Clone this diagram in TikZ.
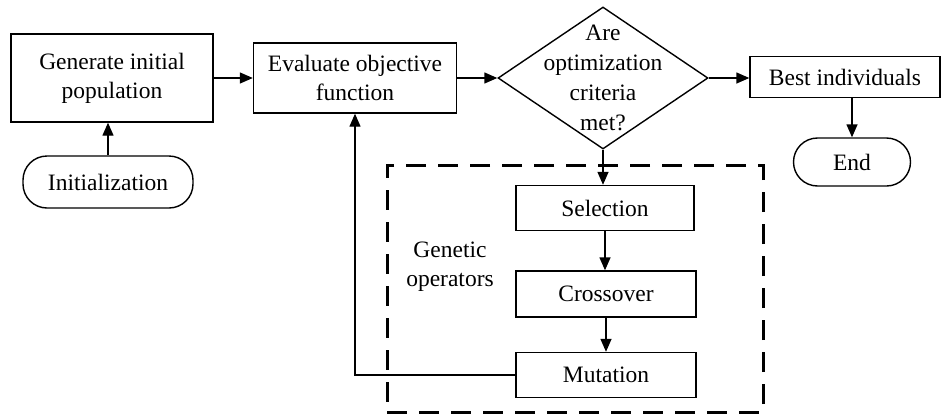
\documentclass[tikz,border=0pt]{standalone}
\usepackage{fontspec}
\setmainfont{Liberation Serif}
\usetikzlibrary{shapes.geometric,arrows.meta}
\begin{document}
\begin{tikzpicture}[x=0.5pt,y=-0.5pt,
  font=\fontsize{11.75}{14.5}\selectfont,
  box/.style={draw,line width=0.7pt,align=center,inner sep=0pt},
  term/.style={draw,line width=0.7pt,rounded corners=12pt,inner sep=0pt,align=center},
  arr/.style={line width=0.7pt,-{Triangle[length=6.5pt,width=5.5pt]}},
  grp/.style={draw,line width=1.5pt,dash pattern=on 10pt off 6pt,inner sep=0pt}]
\useasboundingbox (0,0) rectangle (943,418);

\node[grp,minimum width=188pt,minimum height=123.5pt] (grp) at (575,288.5) {};

\node[box,minimum width=101pt,minimum height=44pt] (gen) at (112,78) {Generate initial\\population};
\node[term,minimum width=85pt,minimum height=26pt] (init) at (108,182) {Initialization};
\node[box,minimum width=101.5pt,minimum height=35pt] (eval) at (355,78) {Evaluate objective\\function};
\node[draw,line width=0.7pt,diamond,inner sep=0pt,minimum width=105pt,minimum height=71pt] (d) at (603,78) {};
\node[align=center,font=\fontsize{11.75}{15}\selectfont] (dt) at (d.center) {Are\\optimization\\criteria\\met?};
\node[box,minimum width=95pt,minimum height=20.5pt] (best) at (845,77) {Best individuals};
\node[term,minimum width=58.5pt,minimum height=24pt] (end) at (852,162) {End};
\node[box,minimum width=89pt,minimum height=22.5pt] (sel) at (605,208) {Selection};
\node[box,minimum width=90pt,minimum height=23pt] (cross) at (606,294) {Crossover};
\node[box,minimum width=90pt,minimum height=22.5pt] (mut) at (606,375) {Mutation};
\node[align=center] (gop) at (450,267) {Genetic\\operators};

\draw[arr] (init.north) -- (init.north |- gen.south);
\draw[arr] (gen.east) -- (eval.west);
\draw[arr] (eval.east) -- (d.west);
\draw[arr] (d.east) -- (best.west |- d.east);
\draw[arr] (end.north |- best.south) -- (end.north);
\draw[arr] (d.south) -- (d.south |- sel.north);
\draw[arr] (sel.south) -- (sel.south |- cross.north);
\draw[arr] (cross.south) -- (cross.south |- mut.north);
\draw[arr] (mut.west) -| (eval.south);
\end{tikzpicture}
\end{document}
